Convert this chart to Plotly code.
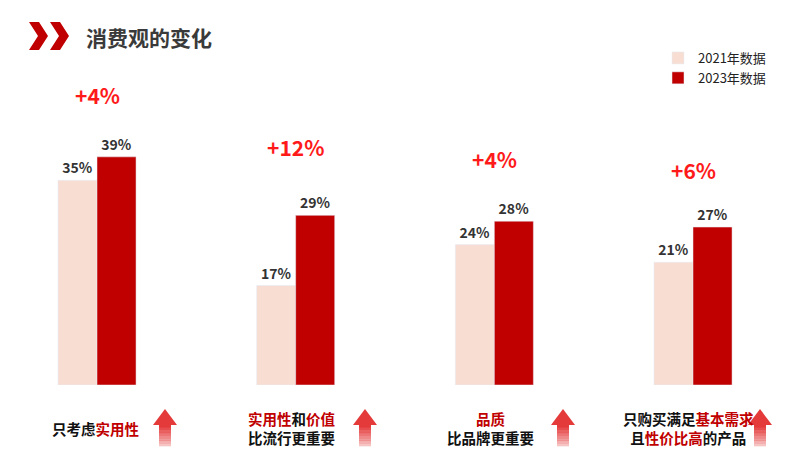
import plotly.graph_objects as go

categories = ["只考虑实用性", "实用性和价值比流行更重要", "品质比品牌更重要", "只购买满足基本需求且性价比高的产品"]
v2021 = [35, 17, 24, 21]
v2023 = [39, 29, 28, 27]
growth = ["+4%", "+12%", "+4%", "+6%"]

RED = "#c00000"
PINK = "#f8ddd3"
FONT = "Noto Sans CJK SC"
W, H = 800, 474
OFF = 8  # page offset of the figure in the screenshot


def fx(p):
    return (p - OFF) / W


def fy(p):
    return 1 - (p - OFF) / H


x = list(range(len(categories)))
fig = go.Figure()
fig.add_trace(go.Bar(x=x, y=v2021, name="2021年数据", marker_color=PINK,
                     text=[f"<b>{v}%</b>" for v in v2021], textposition="outside",
                     textfont=dict(size=14, color="#333", family=FONT), cliponaxis=False))
fig.add_trace(go.Bar(x=x, y=v2023, name="2023年数据", marker_color=RED,
                     text=[f"<b>{v}%</b>" for v in v2023], textposition="outside",
                     textfont=dict(size=14, color="#333", family=FONT), cliponaxis=False))

# growth labels (screen y of each label centre)
growth_py = [95, 147, 159, 170]
for i, g in enumerate(growth):
    fig.add_annotation(x=i, y=fy(growth_py[i]), yref="paper", yanchor="middle", text=f"<b>{g}</b>",
                       showarrow=False, font=dict(size=21, color="#ff1a1a", family=FONT))

# bottom labels
def r(t):
    return f"<span style='color:{RED}'>{t}</span>"
labels = [
    ("只考虑" + r("实用性"), 95, 428),
    (r("实用性") + "和" + r("价值") + "<br>比流行更重要", 292, 428),
    (r("品质") + "<br>比品牌更重要", 490, 428),
    ("只购买满足" + r("基本需求") + "<br>且" + r("性价比高") + "的产品", 688, 428),
]
for t, px_, py_ in labels:
    fig.add_annotation(x=fx(px_), y=fy(py_), xref="paper", yref="paper", text=f"<b>{t}</b>",
                       showarrow=False, font=dict(size=14.5, color="#111", family=FONT),
                       xanchor="center", yanchor="middle", align="center")

shapes = []
# arrows with fading shaft
for cx in [165, 365, 563, 760]:
    def pt(xx, yy):
        return f"{fx(xx)},{fy(yy)}"
    shapes.append(dict(type="path", xref="paper", yref="paper",
                       path=f"M {pt(cx, 409)} L {pt(cx + 12, 425)} L {pt(cx - 12, 425)} Z",
                       fillcolor="#e43a3a", line_width=0))
    n = 8
    for k in range(n):
        y0 = 425 + k * 21 / n
        shapes.append(dict(type="rect", xref="paper", yref="paper",
                           x0=fx(cx - 6), x1=fx(cx + 6), y0=fy(y0 + 21 / n + 0.3), y1=fy(y0),
                           fillcolor="#e43a3a", opacity=1 - k * 0.1, line_width=0))
# title chevrons
for x0 in [29, 50]:
    pts = [(x0, 22), (x0 + 10, 22), (x0 + 19, 36), (x0 + 10, 50), (x0, 50), (x0 + 9, 36)]
    path = "M " + " L ".join(f"{fx(a)},{fy(b)}" for a, b in pts) + " Z"
    shapes.append(dict(type="path", xref="paper", yref="paper", path=path, fillcolor=RED, line_width=0))

fig.add_annotation(x=fx(84), y=fy(37), xref="paper", yref="paper", text="<b>消费观的变化</b>",
                   showarrow=False, xanchor="left", yanchor="middle",
                   font=dict(size=21, color="#3a3a3a", family=FONT))

fig.update_layout(
    width=W, height=H, shapes=shapes,
    margin=dict(l=0, r=0, t=0, b=0, autoexpand=False),
    paper_bgcolor="white", plot_bgcolor="white",
    barmode="group", bargap=0.607, bargroupgap=0,
    showlegend=True,
    legend=dict(x=fx(658), y=fy(43), xanchor="left", yanchor="top", xref="paper", yref="paper",
                font=dict(size=13, color="#222", family=FONT), itemwidth=30,
                tracegroupgap=0, bgcolor="rgba(0,0,0,0)"),
    xaxis=dict(range=[-89 / 198.67, 711 / 198.67], visible=False),
    yaxis=dict(range=[0, 377 / 5.85], visible=False, domain=[(H - 377) / H, 1]),
)
fig.write_html("out.html")
